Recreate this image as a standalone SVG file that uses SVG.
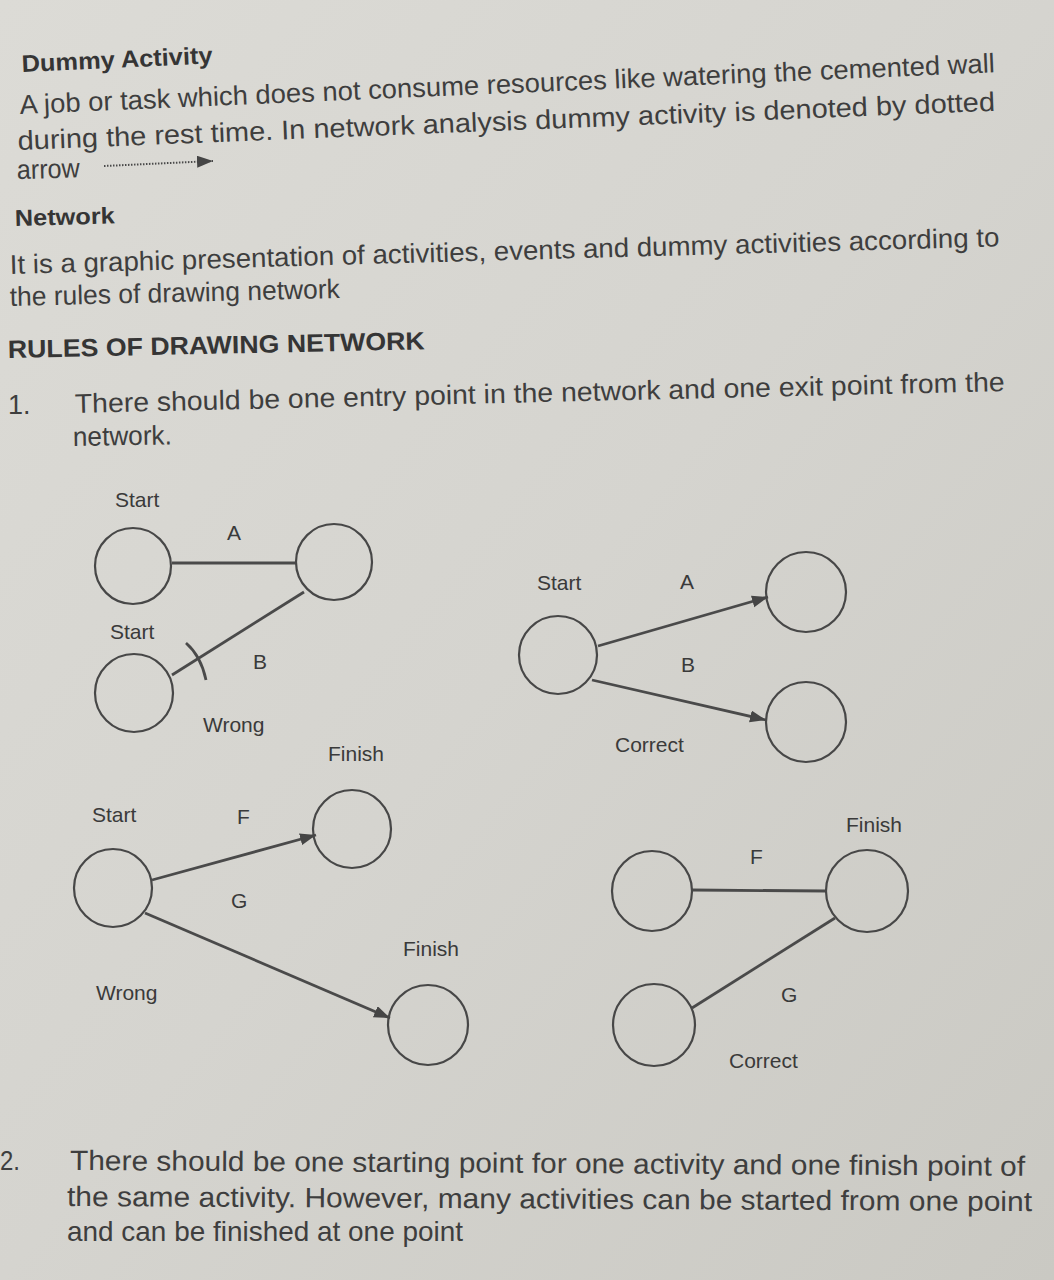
<svg xmlns="http://www.w3.org/2000/svg" width="1054" height="1280" viewBox="0 0 1054 1280">
<defs>
<linearGradient id="bg" x1="0" y1="0" x2="1" y2="1">
<stop offset="0" stop-color="#dcdbd6"/>
<stop offset="0.5" stop-color="#d5d4cf"/>
<stop offset="1" stop-color="#cac9c3"/>
</linearGradient>
<marker id="arr" markerUnits="userSpaceOnUse" markerWidth="18" markerHeight="14" refX="16" refY="6" orient="auto">
<path d="M0,0 L16,6 L0,12 z" fill="#454545"/>
</marker>
<style>
text{font-family:"Liberation Sans",Arial,sans-serif;fill:#3e3e3e}
.b{font-weight:bold;fill:#353535}
.body{font-size:27px}
.lbl{font-size:21px;fill:#3a3a3a}
.node{fill:none;stroke:#474747;stroke-width:2.2}
.edge{fill:none;stroke:#4a4a4a;stroke-width:2.8}
.cond{font-size:28px}
</style>
</defs>
<rect width="1054" height="1280" fill="url(#bg)"/>

<g id="text">
<text class="b" x="22" y="72" font-size="24" textLength="191" lengthAdjust="spacingAndGlyphs" transform="rotate(-2.6 22 72)">Dummy Activity</text>
<text class="body" x="20" y="114" textLength="976" lengthAdjust="spacingAndGlyphs" transform="rotate(-2.45 20 114)">A job or task which does not consume resources like watering the cemented wall</text>
<text class="body" x="18" y="150" textLength="978" lengthAdjust="spacingAndGlyphs" transform="rotate(-2.3 18 150)">during the rest time. In network analysis dummy activity is denoted by dotted</text>
<text class="body" x="17" y="179" textLength="63" lengthAdjust="spacingAndGlyphs" transform="rotate(-1.5 17 179)">arrow</text>
<text class="b" x="15" y="226" font-size="23" textLength="100" lengthAdjust="spacingAndGlyphs" transform="rotate(-1.5 15 226)">Network</text>
<text class="body" x="10" y="274" textLength="990" lengthAdjust="spacingAndGlyphs" transform="rotate(-1.6 10 274)">It is a graphic presentation of activities, events and dummy activities according to</text>
<text class="body" x="10" y="306" textLength="330" lengthAdjust="spacingAndGlyphs" transform="rotate(-1.4 10 306)">the rules of drawing network</text>
<text class="b" x="8" y="358" font-size="25" textLength="417" lengthAdjust="spacingAndGlyphs" transform="rotate(-1.2 8 358)">RULES OF DRAWING NETWORK</text>
<text class="body" x="8" y="414">1.</text>
<text class="body" x="75" y="413" textLength="930" lengthAdjust="spacingAndGlyphs" transform="rotate(-1.35 75 413)">There should be one entry point in the network and one exit point from the</text>
<text class="body" x="73" y="446" textLength="99" lengthAdjust="spacingAndGlyphs" transform="rotate(-1 73 446)">network.</text>
<text class="cond" x="0" y="1170" textLength="20" lengthAdjust="spacingAndGlyphs">2.</text>
<text class="cond" x="70" y="1170" textLength="955" lengthAdjust="spacingAndGlyphs" transform="rotate(0.35 70 1170)">There should be one starting point for one activity and one finish point of</text>
<text class="cond" x="67" y="1206" textLength="965" lengthAdjust="spacingAndGlyphs" transform="rotate(0.3 67 1206)">the same activity. However, many activities can be started from one point</text>
<text class="cond" x="67" y="1241" textLength="396" lengthAdjust="spacingAndGlyphs">and can be finished at one point</text>
</g>

<g id="dummy-arrow">
<line x1="104" y1="166" x2="213" y2="161" stroke="#4a4a4a" stroke-width="2" stroke-dasharray="1.5 1.5" marker-end="url(#arr)"/>
</g>

<g id="connectors">
<line class="edge" x1="172" y1="563" x2="296" y2="563"/>
<line class="edge" x1="172" y1="675" x2="304" y2="592"/>
<path class="edge" d="M186,643 Q201,656 206,680" stroke-width="2"/>
<line class="edge" x1="598" y1="646" x2="768" y2="597" marker-end="url(#arr)"/>
<line class="edge" x1="592" y1="680" x2="766" y2="720" marker-end="url(#arr)"/>
<line class="edge" x1="152" y1="880" x2="316" y2="835" marker-end="url(#arr)"/>
<line class="edge" x1="145" y1="913" x2="390" y2="1018" marker-end="url(#arr)"/>
<line class="edge" x1="692" y1="890" x2="826" y2="891"/>
<line class="edge" x1="692" y1="1008" x2="835" y2="918"/>
</g>

<g id="diagram-1-wrong">
<g id="n1-start-a"><circle class="node" cx="133" cy="566" r="38"/><text class="lbl" x="115" y="507">Start</text></g>
<g id="n1-end"><circle class="node" cx="334" cy="562" r="38"/></g>
<g id="n1-start-b"><circle class="node" cx="134" cy="693" r="39"/><text class="lbl" x="110" y="639">Start</text></g>
<text class="lbl" x="227" y="540">A</text>
<text class="lbl" x="253" y="669">B</text>
<text class="lbl" x="203" y="732">Wrong</text>
<text class="lbl" x="328" y="761">Finish</text>
</g>

<g id="diagram-2-correct">
<g id="n2-start"><circle class="node" cx="558" cy="655" r="39"/><text class="lbl" x="537" y="590">Start</text></g>
<g id="n2-a"><circle class="node" cx="806" cy="592" r="40"/></g>
<g id="n2-b"><circle class="node" cx="806" cy="722" r="40"/></g>
<text class="lbl" x="680" y="589">A</text>
<text class="lbl" x="681" y="672">B</text>
<text class="lbl" x="615" y="752">Correct</text>
</g>

<g id="diagram-3-wrong">
<g id="n3-start"><circle class="node" cx="113" cy="888" r="39"/><text class="lbl" x="92" y="822">Start</text></g>
<g id="n3-f"><circle class="node" cx="352" cy="829" r="39"/></g>
<g id="n3-finish"><circle class="node" cx="428" cy="1025" r="40"/><text class="lbl" x="403" y="956">Finish</text></g>
<text class="lbl" x="237" y="824">F</text>
<text class="lbl" x="231" y="908">G</text>
<text class="lbl" x="96" y="1000">Wrong</text>
</g>

<g id="diagram-4-correct">
<g id="n4-f"><circle class="node" cx="652" cy="891" r="40"/></g>
<g id="n4-finish"><circle class="node" cx="867" cy="891" r="41"/><text class="lbl" x="846" y="832">Finish</text></g>
<g id="n4-g"><circle class="node" cx="654" cy="1025" r="41"/></g>
<text class="lbl" x="750" y="864">F</text>
<text class="lbl" x="781" y="1002">G</text>
<text class="lbl" x="729" y="1068">Correct</text>
</g>
</svg>
